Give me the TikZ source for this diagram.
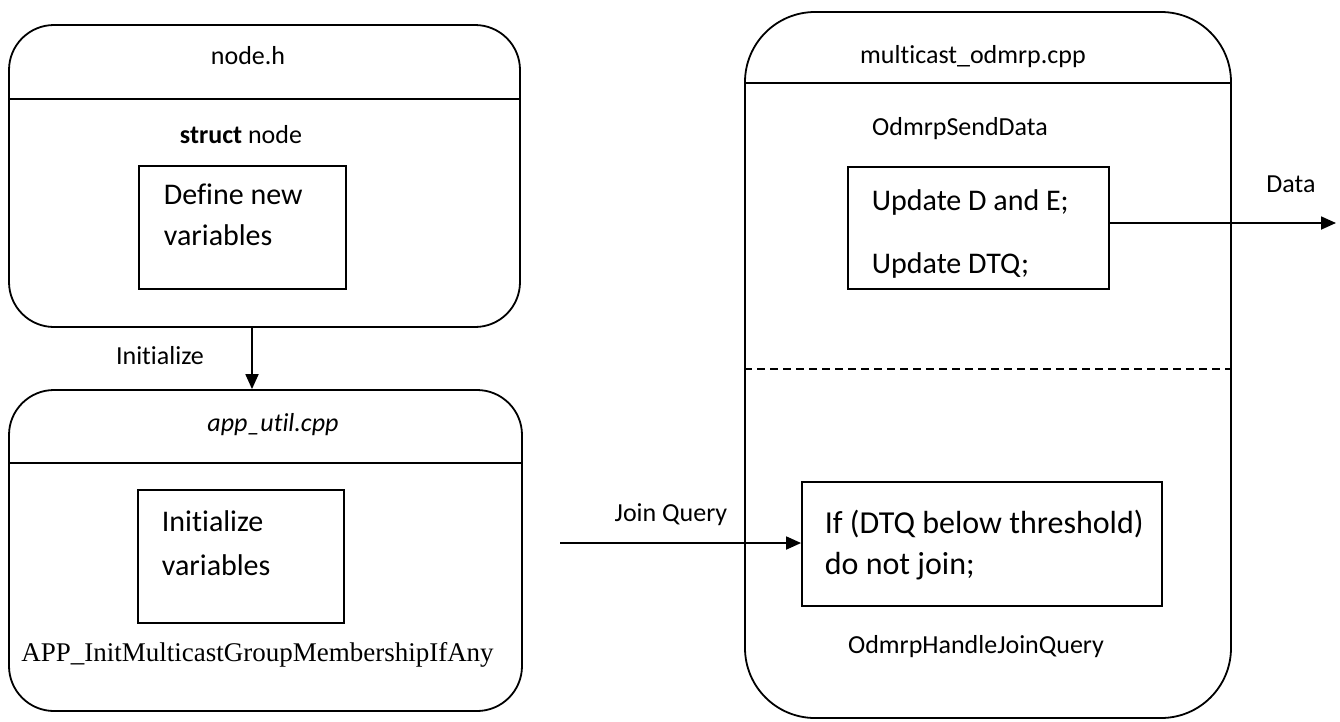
\documentclass[tikz,border=0pt]{standalone}
\usepackage{fontspec}
\setmainfont[Ligatures=NoCommon]{Carlito}
\newfontfamily\serifft{Liberation Serif}
\usetikzlibrary{arrows.meta}

\begin{document}
\begin{tikzpicture}[x=1pt,y=-1pt,
  line width=1.8pt,
  frame/.style={draw, rectangle, inner sep=0pt},
  lbl/.style={inner sep=0pt, anchor=base, font=\fontsize{26}{31}\selectfont},
  body/.style={inner sep=0pt, anchor=base west, font=\fontsize{30}{36}\selectfont},
  arr/.style={-{Triangle[length=15pt,width=13pt]}}
]
\useasboundingbox (0,0) rectangle (1340,721);

% ---- node.h ----
\node[frame, rounded corners=45pt, minimum width=511pt, minimum height=302pt] (nodeh) at (264.5,176) {};
\coordinate (nodehdiv) at (0,99);
\draw (nodeh.west |- nodehdiv) -- (nodeh.east |- nodehdiv);
\node[lbl] (nodehtitle) at (248,64) {node.h};
\node[lbl] (structnode) at (241,143) {\textbf{struct} node};
\node[frame, minimum width=207pt, minimum height=123pt] (definebox) at (242.5,227.5) {};
\node[body] (define1) at (163,204) {Define new};
\node[body] (define2) at (163,245) {variables};

% ---- app_util.cpp ----
\node[frame, rounded corners=45pt, minimum width=513pt, minimum height=321pt] (apputil) at (265.5,550.5) {};
\coordinate (appdiv) at (0,463);
\draw (apputil.west |- appdiv) -- (apputil.east |- appdiv);
\node[lbl] (apptitle) at (273,431) {\itshape app\_util.cpp};
\node[frame, minimum width=206pt, minimum height=133pt] (initbox) at (241,556.5) {};
\node[body] (init1) at (161,531) {Initialize};
\node[body] (init2) at (161,575) {variables};
\node[inner sep=0pt, anchor=base, font=\serifft\fontsize{27}{32}\selectfont] (appfunc) at (257.5,661) {APP\_InitMulticastGroupMembershipIfAny};

% initialize arrow
\coordinate (initx) at (252,0);
\draw[arr] (nodeh.south -| initx) -- (apputil.north -| initx);
\node[lbl] (initlbl) at (160,364) {Initialize};

% ---- multicast_odmrp.cpp ----
\node[frame, rounded corners=70pt, minimum width=486pt, minimum height=706pt] (odmrp) at (988,365) {};
\coordinate (odmrpdiv) at (0,83);
\draw (odmrp.west |- odmrpdiv) -- (odmrp.east |- odmrpdiv);
\node[lbl] (odmrptitle) at (973,63) {multicast\_odmrp.cpp};
\node[lbl] (senddata) at (960,135) {OdmrpSendData};
\node[frame, minimum width=261pt, minimum height=122pt] (updatebox) at (978.5,228) {};
\node[body] (update1) at (871,210) {Update D and E;};
\node[body] (update2) at (871,273) {Update DTQ;};
\coordinate (splitline) at (0,369);
\draw[dashed, dash pattern=on 8pt off 5pt, line width=1.6pt] (odmrp.west |- splitline) -- (odmrp.east |- splitline);

\node[frame, minimum width=360pt, minimum height=124pt] (joinbox) at (982,544) {};
\node[body, font=\fontsize{32}{38}\selectfont] (join1) at (824,533) {If (DTQ below threshold)};
\node[body, font=\fontsize{32}{38}\selectfont] (join2) at (824,574) {do not join;};
\node[lbl] (handlejoin) at (976,653) {OdmrpHandleJoinQuery};

% data out
\coordinate (dataout) at (1336,223);
\draw[arr] (updatebox.east |- dataout) -- (dataout);
\node[lbl] (datalbl) at (1291,192) {Data};

% join query in
\coordinate (joinin) at (560,543);
\draw[arr] (joinin) -- (joinbox.west |- joinin);
\node[lbl] (joinlbl) at (671,521) {Join Query};
\end{tikzpicture}
\end{document}
